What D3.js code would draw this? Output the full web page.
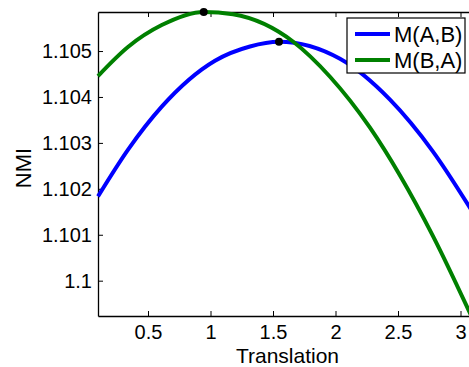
<!DOCTYPE html>
<html>
<head>
<meta charset="utf-8">
<script src="https://cdn.jsdelivr.net/npm/d3@7"></script>
<style>
  body { margin: 0; background: #fff; }
  svg { display: block; font-family: "Liberation Sans", Arial, sans-serif; }
</style>
</head>
<body>
<div id="graph"></div>
<script>
// data
var seriesNames = ["M(A,B)", "M(B,A)"];
var seriesColors = ["#0000ff", "#008000"];
var xAB = [0.1, 0.342, 0.61, 1.036, 1.316, 1.548, 2.036, 2.436, 2.78, 3.1];
var yAB = [1.101835, 1.10286, 1.10379, 1.10479, 1.1051, 1.105202, 1.10483, 1.10394, 1.10281, 1.10148];
var xBA = [0.1, 0.342, 0.61, 0.946, 1.18, 1.662, 1.956, 2.276, 2.516, 2.782, 3.1];
var yBA = [1.104456, 1.105094, 1.105566, 1.105852, 1.1058, 1.105202, 1.10444, 1.10333, 1.10229, 1.10096, 1.09915];
var peakX = [1.548, 0.946];
var peakY = [1.105202, 1.105852];
var xTicks = [0.5, 1, 1.5, 2, 2.5, 3];
var yTicks = [1.1, 1.101, 1.102, 1.103, 1.104, 1.105];

var margin = {top: 12, right: 0, bottom: 51, left: 98},
    width = 375,
    height = 367 - margin.top - margin.bottom;

var svg = d3.select("#graph").append("svg")
    .attr("width", 469)
    .attr("height", 367)
  .append("g")
    .attr("transform", "translate(" + margin.left + "," + margin.top + ")");

var x = d3.scaleLinear().domain([0.1, 3.1]).range([0, width]);
var y = d3.scaleLinear().domain([1.099231, 1.10585]).range([height, 0]);

// axes (matlab style: box, ticks inside)
var fmtX = function(d) { return String(d); };
var fmtY = function(d) { return String(+d.toFixed(3)); };

var gx = svg.append("g")
  .attr("transform", "translate(0," + height + ")")
  .call(d3.axisBottom(x).tickValues(xTicks).tickSizeInner(-5).tickSizeOuter(0).tickPadding(9).tickFormat(fmtX));
var gxTop = svg.append("g")
  .call(d3.axisTop(x).tickValues(xTicks).tickSizeInner(-5).tickSizeOuter(0).tickFormat(""));
var gy = svg.append("g")
  .call(d3.axisLeft(y).tickValues(yTicks).tickSizeInner(-5).tickSizeOuter(0).tickPadding(6).tickFormat(fmtY));

[gx, gxTop, gy].forEach(function(g) {
  g.select(".domain").attr("stroke", "#000").attr("stroke-width", 1.3);
  g.selectAll(".tick line").attr("stroke", "#000");
  g.selectAll("text").attr("fill", "#000").style("font-size", "20px");
});

// curves
var line = d3.line()
  .x(function(d) { return x(d[0]); })
  .y(function(d) { return y(d[1]); })
  .curve(d3.curveMonotoneX);

var seriesData = [d3.zip(xAB, yAB), d3.zip(xBA, yBA)];
seriesData.forEach(function(pts, i) {
  svg.append("path")
    .datum(pts)
    .attr("fill", "none")
    .attr("stroke", seriesColors[i])
    .attr("stroke-width", 4)
    .attr("d", line);
});

svg.selectAll("circle.peak")
  .data(d3.zip(peakX, peakY))
  .enter().append("circle")
  .attr("class", "peak")
  .attr("cx", function(d) { return x(d[0]); })
  .attr("cy", function(d) { return y(d[1]); })
  .attr("r", 4)
  .attr("fill", "#000");

// axis titles
svg.append("text")
  .attr("x", (237 + 338) / 2 - margin.left)
  .attr("y", 363 - margin.top)
  .attr("text-anchor", "middle")
  .style("font-size", "21px")
  .text("Translation");

svg.append("text")
  .attr("transform", "translate(" + (31 - margin.left) + "," + (168 - margin.top) + ") rotate(-90)")
  .attr("text-anchor", "middle")
  .style("font-size", "22px")
  .text("NMI");

// legend
var lg = svg.append("g").attr("transform", "translate(" + (347 - margin.left) + "," + (18 - margin.top) + ")");
lg.append("rect")
  .attr("width", 118).attr("height", 55)
  .attr("fill", "#fff").attr("stroke", "#000").attr("stroke-width", 1.2);
seriesNames.forEach(function(name, i) {
  var ly = 16 + i * 26;
  lg.append("line")
    .attr("x1", 8).attr("x2", 43).attr("y1", ly).attr("y2", ly)
    .attr("stroke", seriesColors[i]).attr("stroke-width", 4);
  lg.append("text")
    .attr("x", 47).attr("y", ly)
    .attr("dy", "0.36em")
    .style("font-size", "22px")
    .text(name);
});
</script>
</body>
</html>
